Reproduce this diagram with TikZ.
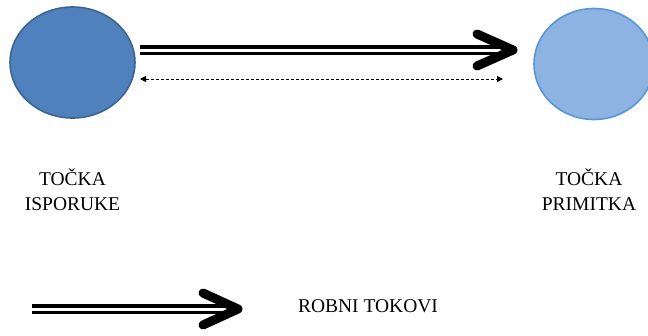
\documentclass[tikz,border=0pt]{standalone}
\usepackage{fontspec}
\setmainfont{Liberation Serif}
\usetikzlibrary{arrows.meta,shapes.geometric}
\definecolor{tamnoplava}{HTML}{4F81BD}
\definecolor{tamnorub}{HTML}{3A6492}
\definecolor{svijetloplava}{HTML}{8DB3E2}
\definecolor{svijetlorub}{HTML}{5B95D9}
\tikzset{
	tocka/.style={ellipse,minimum width=125pt,minimum height=111pt,line width=1.6pt},
	robni/.style={double,double distance=3pt,line width=3.2pt},
	strelica/.style={line width=9pt,line cap=round,line join=round},
	natpis/.style={font=\fontsize{19.5}{25}\selectfont,align=center,inner sep=0pt}
}

\begin{document}
\begin{tikzpicture}[x=1pt,y=-1pt]
			\useasboundingbox (0,0) rectangle (648,335);
			\node (isporuka) at (72.5,62.5) [tocka,draw=tamnorub,fill=tamnoplava] {};
			\node (primitak) at (594,64) [tocka,minimum width=120pt,draw=svijetlorub,fill=svijetloplava] {};
			\node (nIsporuka) at (72.5,190) [natpis] {TOČKA\\ISPORUKE};
			\node (nPrimitak) at (589,190) [natpis] {TOČKA\\PRIMITKA};
			\node (nRobni) at (368,306) [natpis] {ROBNI TOKOVI};
			% robni tok gore
			\coordinate (tokA) at (140,50);
			\coordinate (tokB) at (513,50);
			\draw[robni] (tokA) -- ([xshift=-3pt]tokB);
			\draw[strelica] ([shift={(-36,-16)}]tokB) -- (tokB) -- ([shift={(-36,16)}]tokB);
			% informacije
			\coordinate (infoA) at (140,79);
			\coordinate (infoB) at (503,79);
			\draw[line width=1pt,dash pattern=on 3pt off 2pt,{Triangle[length=6pt,width=6pt]}-{Triangle[length=6pt,width=6pt]}] (infoA) -- (infoB);
			% legenda
			\coordinate (legA) at (32,309);
			\coordinate (legB) at (238,309);
			\draw[robni] (legA) -- ([xshift=-3pt]legB);
			\draw[strelica] ([shift={(-35,-16)}]legB) -- (legB) -- ([shift={(-35,16)}]legB);
		\end{tikzpicture}
\end{document}
